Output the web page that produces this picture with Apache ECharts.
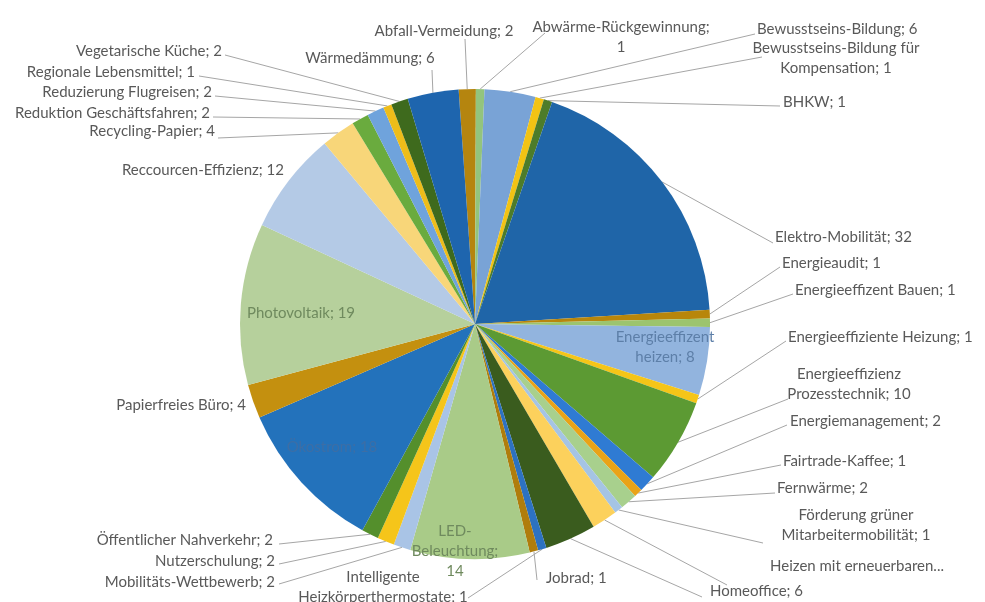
<!DOCTYPE html>
<html>
<head>
<meta charset="utf-8">
<script src="https://cdn.jsdelivr.net/npm/echarts@6/dist/echarts.min.js"></script>
<style>html,body{margin:0;background:#fff}#chart{width:985px;height:602px}</style>
</head>
<body>
<div id="chart"></div>
<script>
// Maßnahmen (Reihenfolge wie im Kreis, im Uhrzeigersinn ab 12 Uhr)
const categories = [
  'Abfall-Vermeidung', 'Abwärme-Rückgewinnung', 'Bewusstseins-Bildung',
  'Bewusstseins-Bildung für Kompensation', 'BHKW', 'Elektro-Mobilität',
  'Energieaudit', 'Energieeffizent Bauen', 'Energieeffizent heizen',
  'Energieeffiziente Heizung', 'Energieeffizienz Prozesstechnik', 'Energiemanagement',
  'Fairtrade-Kaffee', 'Fernwärme', 'Förderung grüner Mitarbeitermobilität',
  'Heizen mit erneuerbaren...', 'Homeoffice', 'Intelligente Heizkörperthermostate',
  'Jobrad', 'LED-Beleuchtung', 'Mobilitäts-Wettbewerb', 'Nutzerschulung',
  'Öffentlicher Nahverkehr', 'Ökostrom', 'Papierfreies Büro', 'Photovoltaik',
  'Reccourcen-Effizienz', 'Recycling-Papier', 'Reduktion Geschäftsfahren',
  'Reduzierung Flugreisen', 'Regionale Lebensmittel', 'Vegetarische Küche', 'Wärmedämmung'
];
const values = [2, 1, 6, 1, 1, 32, 1, 1, 8, 1, 10, 2, 1, 2, 1, 3, 6, 1, 1, 14, 2, 2, 2, 18, 4, 19, 12, 4, 2, 2, 1, 2, 6];

// Farben je Segment
const colors = ['#b5850f', '#93c47d', '#79a3d6', '#f2c314', '#4d7c2a', '#1f65a8',
  '#b8860b', '#9cc46e', '#92b4de', '#f5c518', '#5c9a33', '#2f7bd3',
  '#e9a318', '#a8d08d', '#a5c4e4', '#fcd15c', '#3a5c1e', '#2d72c1',
  '#b07d0c', '#a9cb88', '#a9c4e6', '#f5c51a', '#548f2c', '#2372bb',
  '#c4900f', '#b6d09c', '#b4cae6', '#f8d679', '#6aab3e', '#6fa3dc',
  '#eebd1a', '#3e6a1d', '#1e65ae'];

// Beschriftungs-Layout (Position, Ausrichtung, Ende der Führungslinie, Umbruch)
const spots = [
  { x: 444, y: 31, align: 'center', end: [465, 39] },
  { x: 621, y: 37, align: 'center', end: [545, 33], wrap: 'v' },
  { x: 757, y: 29, align: 'left', end: [755, 34] },
  { x: 836, y: 58, align: 'center', end: [762, 57], wrap: 'n' },
  { x: 783, y: 102, align: 'left', end: [780, 106] },
  { x: 775, y: 237, align: 'left', end: [773, 243] },
  { x: 782, y: 263, align: 'left', end: [780, 267] },
  { x: 795, y: 290, align: 'left', end: [793, 294] },
  { x: 665, y: 347, align: 'center', wrap: 'n', inside: '#5d7fa8' },
  { x: 788, y: 337, align: 'left', end: [786, 341] },
  { x: 849, y: 384, align: 'center', end: [788, 399], wrap: 'n' },
  { x: 790, y: 421, align: 'left', end: [787, 425] },
  { x: 783, y: 461, align: 'left', end: [781, 465] },
  { x: 777, y: 488, align: 'left', end: [775, 493] },
  { x: 856, y: 525, align: 'center', end: [763, 543], wrap: 'n' },
  { x: 770, y: 566, align: 'left', end: [727, 585], wrap: 'x' },
  { x: 710, y: 591, align: 'left', end: [702, 597] },
  { x: 383, y: 587, align: 'center', end: [468, 598], wrap: 'n' },
  { x: 546, y: 578, align: 'left', end: [537, 580] },
  { x: 455, y: 551, align: 'center', wrap: 'h', inside: '#6f8a5e' },
  { x: 275, y: 582, align: 'right', end: [279, 584] },
  { x: 275, y: 561, align: 'right', end: [279, 564] },
  { x: 273, y: 540, align: 'right', end: [279, 544] },
  { x: 332, y: 447, align: 'center', inside: '#3d6ea5' },
  { x: 246, y: 405, align: 'right' },
  { x: 301, y: 313, align: 'center', inside: '#6f8a5e' },
  { x: 284, y: 170, align: 'right' },
  { x: 215, y: 131, align: 'right', end: [218, 138] },
  { x: 210, y: 113, align: 'right', end: [213, 117] },
  { x: 212, y: 92, align: 'right', end: [215, 96] },
  { x: 195, y: 72, align: 'right', end: [199, 76] },
  { x: 222, y: 51, align: 'right', end: [225, 55] },
  { x: 370, y: 58, align: 'center', end: [432, 70] }
];

function labelText(i) {
  const s = spots[i], n = categories[i], v = values[i];
  if (s.wrap === 'x') return n;
  if (s.wrap === 'v') return n + ';\n' + v;
  if (s.wrap === 'h') return n.replace('-', '-\n') + ';\n' + v;
  if (s.wrap === 'n') {
    const k = n.lastIndexOf(' ');
    return n.slice(0, k) + '\n' + n.slice(k + 1) + '; ' + v;
  }
  return n + '; ' + v;
}

const chart = echarts.init(document.getElementById('chart'));
chart.setOption({
  animation: false,
  backgroundColor: '#fff',
  color: colors,
  series: [{
    type: 'pie',
    center: [475, 324],
    radius: 235,
    startAngle: 94,
    clockwise: true,
    avoidLabelOverlap: false,
    itemStyle: { borderWidth: 0 },
    label: {
      show: true, position: 'outside', fontFamily: 'Lato', fontSize: 15,
      color: '#595959', lineHeight: 20,
      formatter: p => labelText(p.dataIndex)
    },
    labelLine: { show: true, lineStyle: { color: '#a6a6a6', width: 1 } },
    labelLayout: p => {
      const s = spots[p.dataIndex];
      const o = { x: s.x, y: s.y, align: s.align, verticalAlign: 'middle' };
      if (s.end && p.labelLinePoints) o.labelLinePoints = [p.labelLinePoints[0], s.end];
      return o;
    },
    data: categories.map((n, i) => ({
      name: n,
      value: values[i],
      label: spots[i].inside ? { color: spots[i].inside } : {},
      labelLine: { show: !!spots[i].end }
    }))
  }]
});
</script>
</body>
</html>
